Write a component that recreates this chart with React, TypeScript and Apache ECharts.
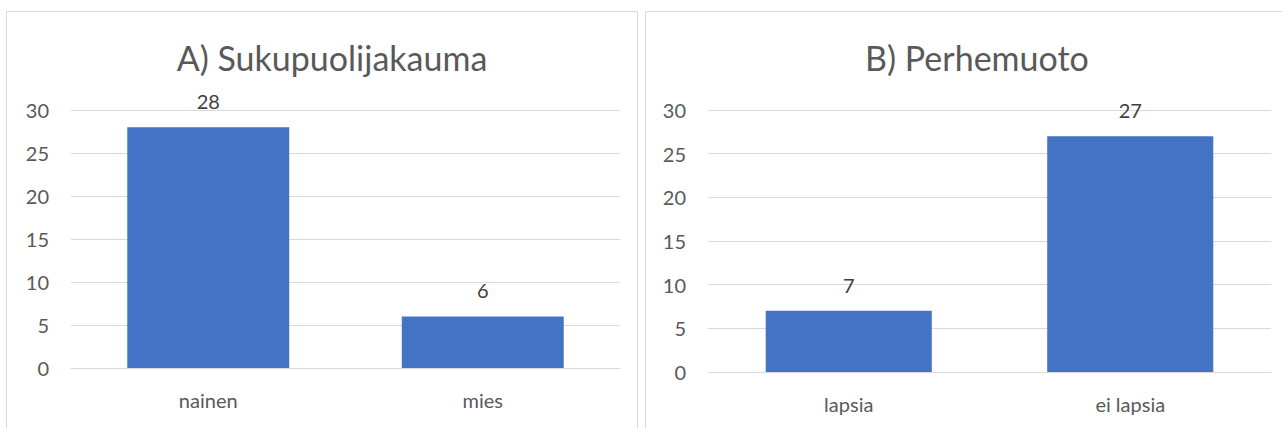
import React, { useEffect, useRef } from "react";
import * as echarts from "echarts";

const titleA = "A) Sukupuolijakauma";
const categoriesA = ["nainen", "mies"];
const valuesA = [28, 6];

const titleB = "B) Perhemuoto";
const categoriesB = ["lapsia", "ei lapsia"];
const valuesB = [7, 27];

const yMin = 0;
const yMax = 30;
const yInterval = 5;

const FONT = "Lato, 'Open Sans', sans-serif";
const TEXT = "#595959";
const GRID = "#D9D9D9";
const BAR = "#4472C4";

export default function App() {
  const ref = useRef<HTMLDivElement>(null);
  useEffect(() => {
    if (!ref.current) return;
    const chart = echarts.init(ref.current, undefined, { renderer: "svg" });
    const xAxis = (idx: number, data: string[]) => ({
      type: "category",
      gridIndex: idx,
      data,
      axisLine: { show: true, lineStyle: { color: GRID, width: 1 } },
      axisTick: { show: false },
      axisLabel: { color: TEXT, fontSize: 20, fontFamily: FONT, margin: 22 },
    });
    const yAxis = (idx: number) => ({
      type: "value",
      gridIndex: idx,
      min: yMin,
      max: yMax,
      interval: yInterval,
      axisLine: { show: false },
      axisTick: { show: false },
      splitLine: { lineStyle: { color: GRID, width: 1 } },
      axisLabel: { color: TEXT, fontSize: 20, fontFamily: FONT, margin: 22 },
    });
    const series = (idx: number, data: number[]) => ({
      type: "bar",
      xAxisIndex: idx,
      yAxisIndex: idx,
      data,
      barWidth: "59%",
      itemStyle: { color: BAR },
      label: {
        show: true,
        position: "top",
        distance: 16,
        color: "#404040",
        fontSize: 20,
        fontFamily: FONT,
      },
    });
    chart.setOption({
      animation: false,
      backgroundColor: "#ffffff",
      title: [
        {
          text: titleA,
          left: 327,
          top: 35,
          textAlign: "center",
          textStyle: { color: TEXT, fontSize: 34, fontWeight: "normal", fontFamily: FONT },
        },
        {
          text: titleB,
          left: 972,
          top: 35,
          textAlign: "center",
          textStyle: { color: TEXT, fontSize: 34, fontWeight: "normal", fontFamily: FONT },
        },
      ],
      graphic: [
        {
          type: "rect",
          shape: { x: 6.5, y: 11.5, width: 631, height: 430 },
          style: { fill: "none", stroke: GRID, lineWidth: 1 },
          z: -1,
        },
        {
          type: "rect",
          shape: { x: 645.5, y: 11.5, width: 650, height: 430 },
          style: { fill: "none", stroke: GRID, lineWidth: 1 },
          z: -1,
        },
      ],
      grid: [
        { left: 71, top: 110, width: 549, height: 258 },
        { left: 708, top: 110, width: 563, height: 262 },
      ],
      xAxis: [xAxis(0, categoriesA), xAxis(1, categoriesB)],
      yAxis: [yAxis(0), yAxis(1)],
      series: [series(0, valuesA), series(1, valuesB)],
    });
    return () => chart.dispose();
  }, []);
  return (
    <div
      ref={ref}
      style={{ position: "absolute", left: 0, top: 0, width: 1282, height: 428 }}
    />
  );
}
